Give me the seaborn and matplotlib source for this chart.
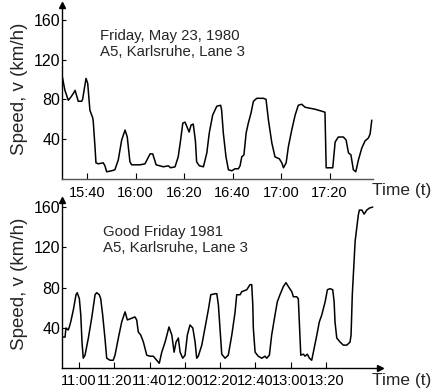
import matplotlib
matplotlib.use("Agg")
import matplotlib.pyplot as plt
import seaborn as sns
import pandas as pd

# ---- data: top panel (minutes after 15:00), speed km/h ----
t_1980 = [29.8, 30.9, 32.3, 33.3, 34.4, 35.1, 36.4, 37.8, 38.2, 39.6, 40.3, 41.2, 42.4, 42.6,
          43.3, 43.7, 44.7, 46.7, 47.4, 48.1, 50.2, 51.5, 52.9, 54.3, 55.7, 56.6, 57.7, 58.4,
          61.9, 63.9, 66.0, 67.1, 68.5, 71.5, 73.5, 74.5, 76.3, 77.6, 78.6, 79.5, 80.4, 81.1,
          82.1, 82.9, 83.8, 84.7, 85.2, 86.3, 88.0, 89.4, 90.4, 91.8, 93.5, 95.1, 95.5, 96.2,
          97.3, 98.3, 99.7, 101.0, 102.4, 103.1, 103.8, 104.7, 105.6, 106.5, 107.6, 108.6,
          110.0, 112.7, 113.8, 114.8, 116.2, 117.5, 119.3, 120.3, 121.0, 122.1, 123.0, 124.4,
          125.8, 127.1, 128.5, 129.9, 131.9, 134.0, 135.4, 136.8, 138.1, 138.6, 140.2, 141.3,
          142.3, 143.6, 145.7, 146.8, 147.8, 148.8, 149.8, 150.8, 151.9, 153.3, 154.6, 156.0,
          156.7, 157.4]
v_1980 = [103, 89, 79, 82, 86, 89, 78, 78, 80, 101, 96, 69, 61, 57,
          32, 16, 15, 16, 13, 7, 8, 9, 19, 39, 49, 42, 17, 14,
          14, 15, 25, 25, 14, 12, 13, 11, 12, 22, 39, 56, 57, 53,
          47, 54, 55, 38, 17, 13, 12, 26, 46, 64, 73, 74, 69, 46,
          22, 9, 8, 10, 10, 13, 22, 24, 46, 56, 66, 78,
          81, 81, 80, 59, 36, 22, 20, 16, 11, 16, 32, 49,
          64, 74, 75, 72, 71, 70, 69, 68, 67, 11, 11, 11,
          37, 42, 42, 39, 26, 24, 9, 7, 19, 31, 38, 41,
          45, 59]

# ---- data: bottom panel (minutes after 10:00), speed km/h ----
t_1981 = [50.4, 52.1, 52.6, 53.9, 54.5, 55.3, 56.8, 58.3, 59.0, 60.2, 61.0, 61.7, 62.4, 63.4,
          65.3, 67.2, 69.1, 70.0, 71.5, 72.3, 73.4, 74.7, 75.7, 77.6, 79.4, 80.4, 82.3, 84.2,
          86.1, 87.4, 88.9, 91.7, 92.7, 93.6, 95.0, 96.5, 98.4, 100.2, 102.1, 104.0, 105.5,
          106.9, 108.8, 111.0, 112.6, 113.9, 115.0, 116.3, 117.3, 118.8, 120.1, 121.4, 122.9,
          124.5, 125.8, 126.7, 127.6, 129.6, 131.4, 133.3, 134.7, 137.1, 138.1, 139.0, 139.9,
          140.9, 142.8, 144.6, 146.6, 148.4, 149.4, 151.3, 152.2, 155.1, 156.9, 157.9, 158.5,
          158.8, 159.8, 161.6, 163.6, 165.4, 166.4, 167.9, 169.2, 171.1, 172.4, 173.9, 175.8,
          177.3, 178.7, 180.6, 181.5, 183.4, 184.3, 184.9, 185.7, 187.2, 188.1, 189.4, 190.6,
          191.9, 193.2, 194.8, 196.2, 197.6, 199.5, 200.8, 202.3, 203.8, 204.6, 205.1, 206.1,
          208.0, 209.8, 211.8, 213.6, 214.2, 214.9, 215.9, 216.5, 217.4, 218.3, 218.9, 220.3,
          221.6, 223.1, 224.6, 226.5]
v_1981 = [31, 31, 40, 38, 41, 46, 58, 73, 75, 69, 53, 26, 10, 13,
          30, 50, 73, 75, 73, 69, 53, 30, 10, 8, 8, 13, 30, 46,
          56, 48, 49, 51, 48, 36, 33, 26, 13, 12, 12, 8, 5,
          16, 26, 41, 33, 16, 26, 30, 16, 10, 13, 33, 43,
          40, 26, 10, 12, 23, 40, 58, 73, 74, 74, 63, 40,
          14, 10, 13, 33, 55, 73, 73, 76, 78, 83, 83, 63,
          40, 16, 12, 10, 12, 10, 13, 33, 53, 66, 73, 81,
          85, 81, 76, 71, 71, 69, 46, 13, 14, 12, 14, 10,
          8, 19, 33, 46, 53, 66, 78, 79, 78, 66, 46, 30,
          26, 23, 23, 26, 33, 73, 106, 126, 139, 152, 157, 157,
          153, 157, 159, 160]

ticks_1980 = [40, 60, 80, 100, 120, 140]
labels_1980 = ["15:40", "16:00", "16:20", "16:40", "17:00", "17:20"]
ticks_1981 = [60, 80, 100, 120, 140, 160, 180, 200]
labels_1981 = ["11:00", "11:20", "11:40", "12:00", "12:20", "12:40", "13:00", "13:20"]
y_ticks = [40, 80, 120, 160]

df1 = pd.DataFrame({"t": t_1980, "v": v_1980})
df2 = pd.DataFrame({"t": t_1981, "v": v_1981})

sns.set_style("white")
plt.rcParams["font.family"] = ["Liberation Sans", "DejaVu Sans"]

W, H = 432, 390
fig = plt.figure(figsize=(W / 100, H / 100), dpi=100)

ax1 = fig.add_axes([62 / W, (H - 178.7) / H, (373 - 62) / W, (178.7 - 5) / H])
ax2 = fig.add_axes([62 / W, (H - 368.3) / H, (380 - 62) / W, (368.3 - 200) / H])

sns.lineplot(data=df1, x="t", y="v", ax=ax1, color="black", linewidth=1.1,
             estimator=None, sort=False)
sns.lineplot(data=df2, x="t", y="v", ax=ax2, color="black", linewidth=1.1,
             estimator=None, sort=False)

ax1.set_xlim(29.7, 157.9)
ax1.set_ylim(0, 175)
ax2.set_xlim(50.36, 230.6)
ax2.set_ylim(0, 167)

for ax, ticks, labels, pad in [(ax1, ticks_1980, labels_1980, 5), (ax2, ticks_1981, labels_1981, 4)]:
    ax.set_xticks(ticks)
    ax.set_xticklabels(labels)
    ax.set_yticks(y_ticks)
    ax.tick_params(axis="x", direction="in", length=4, width=0.8, pad=pad,
                   labelsize=10.5, bottom=True, colors="black")
    ax.tick_params(axis="y", direction="in", length=3, width=0.8, pad=1,
                   labelsize=11.5, left=True, colors="black")
    for s in ["top", "right"]:
        ax.spines[s].set_visible(False)
    ax.spines["left"].set_color("black")
    ax.spines["left"].set_linewidth(1.0)
    ax.spines["bottom"].set_color("black")
    ax.spines["bottom"].set_linewidth(1.0)
    ax.set_xlabel("")
    ax.set_ylabel("Speed, v (km/h)", fontsize=13.5, va="center")
    ax.patch.set_alpha(0)

ax1.spines["bottom"].set_color("#555555")
ax1.yaxis.set_label_coords(-42 / 311, 0.52)
ax2.yaxis.set_label_coords(-42 / 318, 0.50)

# axis arrows
ax1.plot(0, 1, marker="^", color="black", markersize=4, transform=ax1.transAxes, clip_on=False)
ax2.plot(0, 1, marker="^", color="black", markersize=4, transform=ax2.transAxes, clip_on=False)
ax2.plot(1, 0, marker=">", color="black", markersize=4, transform=ax2.transAxes, clip_on=False)

# annotations
fig.text(100 / W, 1 - 36 / H, "Friday, May 23, 1980", fontsize=10.8, va="center", ha="left")
fig.text(100 / W, 1 - 52 / H, "A5, Karlsruhe, Lane 3", fontsize=10.8, va="center", ha="left")
fig.text(103 / W, 1 - 232 / H, "Good Friday 1981", fontsize=10.8, va="center", ha="left")
fig.text(103 / W, 1 - 248 / H, "A5, Karlsruhe, Lane 3", fontsize=10.8, va="center", ha="left")

fig.text(431 / W, 1 - 191 / H, "Time (t)", fontsize=12.5, va="center", ha="right")
fig.text(431 / W, 1 - 380 / H, "Time (t)", fontsize=12.5, va="center", ha="right")

fig.savefig("out.png", dpi=100)
